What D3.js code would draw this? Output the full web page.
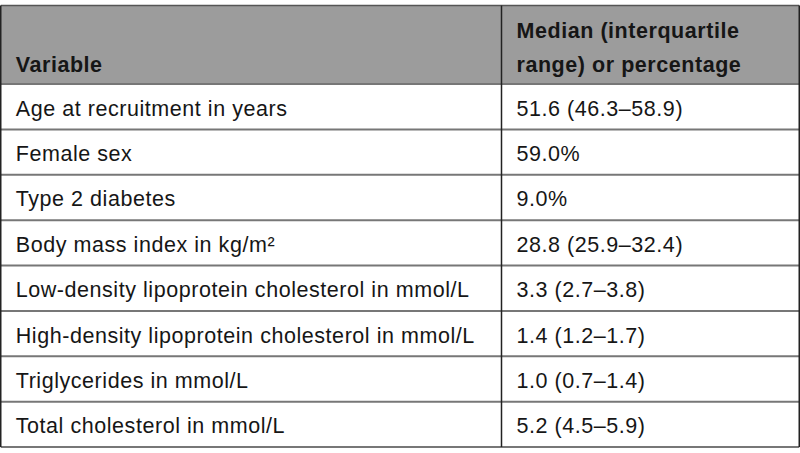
<!DOCTYPE html>
<html>
<head>
<meta charset="utf-8">
<script src="https://cdn.jsdelivr.net/npm/d3@7"></script>
<style>
  html, body { margin: 0; padding: 0; background: #fff; }
  svg { display: block; }
  text { font-family: "Liberation Sans", Arial, sans-serif; fill: #161616; }
</style>
</head>
<body>
<div id="container"></div>
<script>
// table content
const headers = ["Variable", "Median (interquartile\nrange) or percentage"];
const variables = [
  "Age at recruitment in years",
  "Female sex",
  "Type 2 diabetes",
  "Body mass index in kg/m\u00B2",
  "Low-density lipoprotein cholesterol in mmol/L",
  "High-density lipoprotein cholesterol in mmol/L",
  "Triglycerides in mmol/L",
  "Total cholesterol in mmol/L"
];
const values = [
  "51.6 (46.3\u201358.9)",
  "59.0%",
  "9.0%",
  "28.8 (25.9\u201332.4)",
  "3.3 (2.7\u20133.8)",
  "1.4 (1.2\u20131.7)",
  "1.0 (0.7\u20131.4)",
  "5.2 (4.5\u20135.9)"
];

const width = 800, height = 453;
const tableTop = 5.5, headerBottom = 84, tableBottom = 447;
const colX = [0.75, 501.5, 799.25];
const fontSize = 21.5, spacing = 0.55;

const svg = d3.select('#container').append('svg')
  .attr('width', width)
  .attr('height', height);

// rows
const yScale = d3.scaleBand()
  .domain(variables.map((d, i) => i))
  .range([headerBottom, tableBottom]);

// header background
svg.append('rect')
  .attr('x', colX[0]).attr('y', tableTop)
  .attr('width', colX[2] - colX[0]).attr('height', headerBottom - tableTop)
  .attr('fill', '#9c9c9c');

// header text (bottom aligned)
headers.forEach((h, c) => {
  const lines = h.split('\n');
  const t = svg.append('text')
    .attr('font-size', fontSize)
    .attr('letter-spacing', spacing)
    .attr('font-weight', 'bold');
  lines.forEach((l, i) => {
    t.append('tspan')
      .attr('x', colX[c] + 15)
      .attr('y', 72 - (lines.length - 1 - i) * 34)
      .text(l);
  });
});

// body rows
const rows = svg.selectAll('g.row')
  .data(variables)
  .enter()
  .append('g')
  .attr('class', 'row')
  .attr('transform', (d, i) => `translate(0,${yScale(i)})`);

rows.append('text')
  .attr('x', colX[0] + 15)
  .attr('y', yScale.bandwidth() / 2)
  .attr('dy', '0.42em')
  .attr('font-size', fontSize)
  .attr('letter-spacing', spacing)
  .text(d => d);

rows.append('text')
  .attr('x', colX[1] + 15)
  .attr('y', yScale.bandwidth() / 2)
  .attr('dy', '0.42em')
  .attr('font-size', fontSize)
  .attr('letter-spacing', spacing)
  .text((d, i) => values[i]);

// horizontal rules
const hLines = [headerBottom].concat(variables.map((d, i) => yScale(i) + yScale.bandwidth()));
svg.selectAll('line.h')
  .data(hLines)
  .enter()
  .append('line')
  .attr('class', 'h')
  .attr('x1', colX[0]).attr('x2', colX[2])
  .attr('y1', d => d).attr('y2', d => d)
  .attr('stroke', '#777')
  .attr('stroke-width', 2);

// top rule
svg.append('line')
  .attr('x1', colX[0]).attr('x2', colX[2])
  .attr('y1', tableTop).attr('y2', tableTop)
  .attr('stroke', '#555')
  .attr('stroke-width', 1.5);

// vertical rules
svg.selectAll('line.v')
  .data(colX)
  .enter()
  .append('line')
  .attr('class', 'v')
  .attr('x1', d => d).attr('x2', d => d)
  .attr('y1', tableTop).attr('y2', tableBottom)
  .attr('stroke', '#222')
  .attr('stroke-width', 1.5);
</script>
</body>
</html>
